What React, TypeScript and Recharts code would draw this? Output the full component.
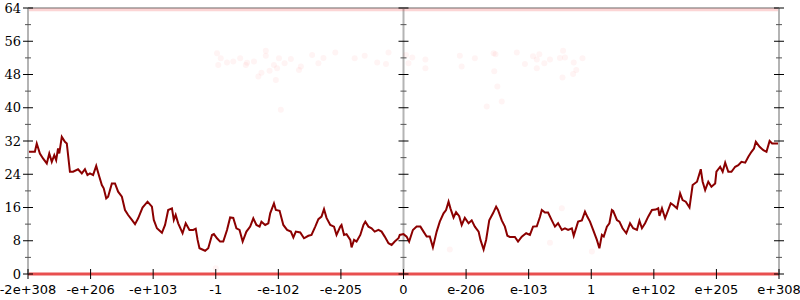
import React from "react";
import {
  ComposedChart,
  Line,
  Scatter,
  XAxis,
  YAxis,
  ReferenceLine,
} from "recharts";

// x is in tick-index units: 0 = -2e+308, 6 = 0, 12 = e+308
const X_LABELS = [
  "-2e+308", "-e+206", "-e+103", "-1", "-e-102", "-e-205", "0",
  "e-206", "e-103", "1", "e+102", "e+205", "e+308",
];
const Y_TICKS = [0, 4, 8, 12, 16, 20, 24, 28, 32, 36, 40, 44, 48, 52, 56, 60, 64];

const CURVE_X = [
  0, 0.11, 0.14, 0.19, 0.24, 0.3, 0.34, 0.38, 0.42, 0.45, 0.48, 0.5, 0.54, 0.59, 0.62,
  0.67, 0.72, 0.8, 0.86, 0.91, 0.95, 0.99, 1.04, 1.09, 1.14, 1.18, 1.21, 1.25, 1.28,
  1.34, 1.39, 1.44, 1.5, 1.55, 1.6, 1.66, 1.71, 1.76, 1.83, 1.91, 1.98, 2.01, 2.06,
  2.14, 2.19, 2.24, 2.3, 2.33, 2.36, 2.4, 2.47, 2.52, 2.58, 2.64, 2.68, 2.71, 2.74,
  2.83, 2.88, 2.94, 2.97, 3.02, 3.07, 3.12, 3.18, 3.23, 3.28, 3.33, 3.38, 3.43, 3.49,
  3.55, 3.6, 3.65, 3.7, 3.73, 3.79, 3.84, 3.87, 3.93, 3.96, 4.02, 4.08, 4.14, 4.2,
  4.24, 4.28, 4.35, 4.41, 4.48, 4.53, 4.59, 4.64, 4.69, 4.73, 4.77, 4.83, 4.89, 4.93,
  4.99, 5.01, 5.05, 5.09, 5.15, 5.17, 5.21, 5.25, 5.31, 5.36, 5.39, 5.44, 5.49, 5.54,
  5.6, 5.65, 5.7, 5.76, 5.81, 5.86, 5.92, 5.94, 6.0, 6.05, 6.09, 6.15, 6.21, 6.27,
  6.32, 6.37, 6.42, 6.47, 6.53, 6.58, 6.64, 6.68, 6.72, 6.75, 6.8, 6.84, 6.89, 6.93,
  6.98, 7.04, 7.09, 7.14, 7.2, 7.23, 7.28, 7.32, 7.37, 7.43, 7.48, 7.51, 7.57, 7.62,
  7.66, 7.7, 7.78, 7.83, 7.89, 7.96, 8.02, 8.07, 8.13, 8.18, 8.21, 8.26, 8.31, 8.37,
  8.42, 8.47, 8.53, 8.58, 8.63, 8.69, 8.72, 8.79, 8.85, 8.9, 8.94, 8.98, 9.03, 9.09,
  9.13, 9.17, 9.2, 9.25, 9.29, 9.33, 9.35, 9.41, 9.45, 9.5, 9.56, 9.62, 9.67, 9.73,
  9.77, 9.81, 9.86, 9.91, 9.97, 10.03, 10.07, 10.09, 10.13, 10.18, 10.23, 10.27,
  10.31, 10.37, 10.42, 10.46, 10.51, 10.57, 10.62, 10.69, 10.75, 10.78, 10.82, 10.87,
  10.92, 10.98, 11.0, 11.06, 11.1, 11.14, 11.19, 11.24, 11.3, 11.35, 11.4, 11.46,
  11.51, 11.56, 11.6, 11.63, 11.69, 11.75, 11.8, 11.85, 11.89, 11.96, 12,
];
const CURVE_Y = [
  29.4, 29.4, 31.4, 29.0, 27.8, 26.6, 29.0, 27.0, 28.6, 27.4, 30.2, 29.0, 33.0, 31.8, 31.4,
  24.6, 24.6, 25.2, 24.2, 25.2, 23.8, 24.2, 23.8, 26.0, 23.4, 21.4, 20.6, 18.2, 18.6,
  21.8, 21.8, 19.8, 18.6, 15.4, 14.2, 13.0, 12.0, 13.4, 16.0, 17.4, 16.2, 13.0, 11.0,
  9.9, 11.8, 15.4, 15.8, 13.0, 14.2, 12.2, 9.8, 12.2, 10.6, 10.6, 10.9, 8.2, 6.2,
  5.6, 6.2, 9.4, 9.6, 8.6, 7.8, 7.8, 10.6, 13.6, 13.5, 11.0, 10.6, 7.8, 10.2,
  11.4, 13.4, 11.8, 11.4, 12.6, 11.8, 12.2, 14.6, 17.0, 15.4, 15.2, 11.8, 10.6, 10.2,
  8.8, 10.2, 10.0, 8.6, 9.2, 9.4, 11.4, 13.2, 13.8, 15.6, 13.5, 11.8, 11.4, 9.4,
  11.4, 11.8, 9.4, 9.6, 8.2, 6.4, 8.2, 7.8, 9.4, 11.8, 12.6, 11.4, 11.0, 10.2,
  10.6, 10.2, 9.0, 7.4, 7.0, 7.8, 8.6, 9.4, 9.6, 9.0, 7.8, 10.6, 11.4, 11.4,
  10.2, 9.0, 9.0, 6.4, 10.2, 12.6, 14.6, 15.4, 17.4, 15.8, 13.6, 14.9, 13.9, 11.8,
  13.5, 12.2, 12.9, 11.4, 10.2, 8.2, 5.9, 8.2, 12.9, 14.6, 16.2, 15.4, 12.9, 11.4,
  9.2, 8.9, 8.9, 7.8, 9.0, 9.8, 9.4, 11.4, 11.5, 13.7, 15.4, 14.8, 14.8, 12.9,
  11.4, 12.2, 10.6, 11.0, 10.6, 11.0, 9.2, 12.6, 12.9, 15.0, 13.7, 12.6, 10.6, 8.2,
  6.2, 9.4, 9.0, 11.4, 12.2, 15.4, 15.2, 13.0, 12.6, 11.0, 9.8, 12.2, 11.0, 10.6,
  12.8, 11.0, 12.2, 13.8, 15.4, 15.5, 15.8, 14.0, 15.8, 13.4, 15.4, 17.0,
  16.6, 15.8, 19.4, 17.8, 17.4, 16.0, 21.4, 22.2, 25.2, 22.2, 20.2, 22.2,
  21.0, 21.8, 24.6, 25.8, 24.6, 26.8, 24.6, 24.6, 25.8, 26.2, 27.0, 26.8,
  28.2, 29.4, 30.2, 31.8, 30.6, 29.8, 29.4, 32.0, 31.4, 31.4, 31.4,
];

// faint background dots
const DOT_X = [
  3.02, 3.08, 3.04, 3.18, 3.28, 3.39, 3.48, 3.5, 3.61, 3.68, 3.73, 3.8, 3.8, 3.86, 3.93,
  3.96, 3.98, 4.01, 4.1, 4.2, 4.04, 4.33, 4.36, 4.54, 4.64, 4.72, 4.91, 5.22, 5.38,
  5.58, 5.72, 5.76, 6.04, 6.14, 6.08, 6.35, 6.35, 6.9, 6.93, 7.14, 7.44, 7.47, 7.45,
  7.5, 7.33, 7.57, 7.81, 7.94, 8.07, 8.17, 8.13, 8.13, 8.25, 8.34, 8.5, 8.55, 8.58,
  8.72, 8.76, 8.71, 8.54, 8.86, 8.34, 9.01, 6.74, 8.53, 3.0,
];
const DOT_Y = [
  53.1, 51.9, 50.3, 50.9, 51.1, 51.9, 50.3, 50.8, 51.1, 47.5, 48.4, 53.7, 52.5, 48.9, 50.3,
  46.7, 49.5, 51.9, 50.7, 51.7, 39.5, 49.1, 49.9, 52.7, 50.7, 52.0, 53.3, 51.9, 52.5,
  50.9, 50.5, 53.3, 52.7, 52.1, 50.7, 51.6, 49.5, 52.5, 49.9, 51.9, 53.1, 52.9, 48.8,
  45.1, 40.3, 41.5, 53.3, 50.5, 52.4, 52.9, 51.6, 49.5, 50.7, 51.6, 52.0, 53.7, 52.1,
  50.9, 49.1, 48.1, 47.3, 51.9, 7.5, 5.4, 5.9, 15.8, 1.4,
];

// dense rows of dots along the top and bottom edges
const TOP_ROW = [63.6, 63.6];
const BOTTOM_ROW = [0, 0];

const curve = CURVE_X.map((x, i) => ({ x, y: CURVE_Y[i] }));
const dots = DOT_X.map((x, i) => ({ x, y: DOT_Y[i] }));
const topRow = TOP_ROW.map((y, i) => ({ x: i * 12, y }));
const bottomRow = BOTTOM_ROW.map((y, i) => ({ x: i * 12, y }));
const midTicks = Y_TICKS.map((y) => ({ x: 6, y }));

const AXIS_GREY = "#b4b4b4";

function XTick({ x, y, payload }: any) {
  return (
    <g>
      <line x1={x} x2={x} y1={y - 5} y2={y + 5} stroke="#000" strokeWidth={1} />
      <text x={x} y={y + 20} textAnchor="middle" fontSize={13} fontFamily="DejaVu Sans" fill="#000">
        {X_LABELS[payload.value]}
      </text>
    </g>
  );
}

function tickMark(x: number, y: number, v: number) {
  const major = v % 8 === 0;
  const half = major ? 5 : 3;
  return (
    <line
      x1={x - half}
      x2={x + half}
      y1={y}
      y2={y}
      stroke={major ? "#000" : "#555"}
      strokeWidth={1}
    />
  );
}

function LeftTick({ x, y, payload }: any) {
  const v = payload.value;
  return (
    <g>
      {tickMark(x, y, v)}
      {v % 8 === 0 && (
        <text x={x - 7} y={y} dy="0.35em" textAnchor="end" fontSize={13} fontFamily="DejaVu Serif" fill="#000">
          {v}
        </text>
      )}
    </g>
  );
}

function RightTick({ x, y, payload }: any) {
  return <g>{tickMark(x, y, payload.value)}</g>;
}

function MidTick(props: any) {
  return tickMark(props.cx, props.cy, props.payload.y);
}

function Dot(props: any) {
  return <circle cx={props.cx} cy={props.cy} r={3} fill="#ff3030" fillOpacity={0.05} />;
}

export default function App() {
  return (
    <div style={{ position: "absolute", left: 0, top: 0, width: 800, height: 300, background: "#fff" }}>
      <ComposedChart width={800} height={300} margin={{ top: 8, right: 0, bottom: 0, left: 0 }}>
        <XAxis
          dataKey="x"
          type="number"
          domain={[0, 12]}
          ticks={X_LABELS.map((_, i) => i)}
          interval={0}
          height={26}
          tickSize={0}
          tickMargin={0}
          tickLine={false}
          axisLine={false}
          tick={<XTick />}
        />
        <YAxis
          yAxisId="l"
          dataKey="y"
          type="number"
          domain={[0, 64]}
          ticks={Y_TICKS}
          interval={0}
          width={28}
          tickSize={0}
          tickMargin={0}
          tickLine={false}
          axisLine={{ stroke: AXIS_GREY, strokeWidth: 2 }}
          tick={<LeftTick />}
        />
        <YAxis
          yAxisId="r"
          orientation="right"
          dataKey="y"
          type="number"
          domain={[0, 64]}
          ticks={Y_TICKS}
          interval={0}
          width={21}
          tickSize={0}
          tickMargin={0}
          tickLine={false}
          axisLine={{ stroke: AXIS_GREY, strokeWidth: 2 }}
          tick={<RightTick />}
        />
        <ReferenceLine yAxisId="l" y={64} stroke="#999" strokeWidth={1.5} />
        <ReferenceLine yAxisId="l" x={6} stroke={AXIS_GREY} strokeWidth={2} />
        <Scatter yAxisId="l" data={dots} shape={<Dot />} isAnimationActive={false} />
        <Line
          yAxisId="r"
          data={topRow}
          dataKey="y"
          stroke="#f04040"
          strokeOpacity={0.22}
          strokeWidth={3}
          dot={false}
          isAnimationActive={false}
        />
        <Line
          yAxisId="r"
          data={bottomRow}
          dataKey="y"
          stroke="#e63c3c"
          strokeOpacity={0.9}
          strokeWidth={3}
          dot={false}
          isAnimationActive={false}
        />
        <Scatter yAxisId="l" data={midTicks} shape={<MidTick />} isAnimationActive={false} />
        <Line
          yAxisId="l"
          data={curve}
          dataKey="y"
          type="linear"
          stroke="#8b0000"
          strokeWidth={2}
          dot={false}
          isAnimationActive={false}
        />
      </ComposedChart>
    </div>
  );
}
